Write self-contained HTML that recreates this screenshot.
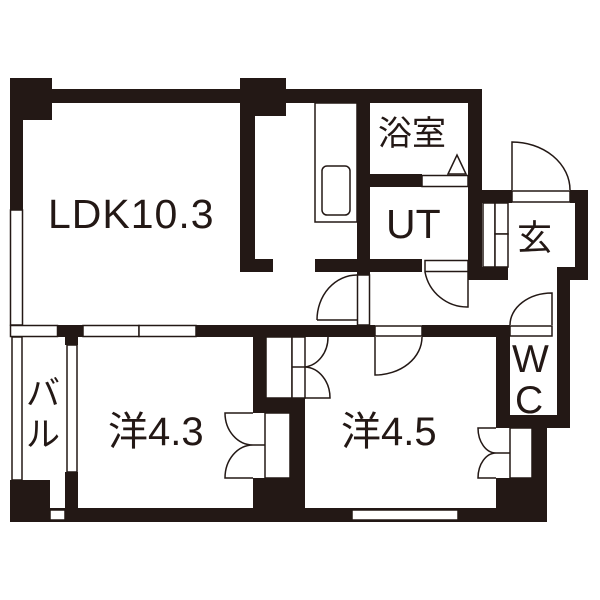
<!DOCTYPE html>
<html><head><meta charset="utf-8"><style>
html,body{margin:0;padding:0;background:#fff;width:600px;height:600px;overflow:hidden}
text{font-family:"Liberation Sans","Noto Sans CJK JP",sans-serif;fill:#231815}
</style></head><body>
<svg width="600" height="600" viewBox="0 0 600 600" xmlns="http://www.w3.org/2000/svg">
<g fill="#231815">
<rect x="10" y="78" width="42" height="42"/>
<rect x="52" y="89" width="430" height="14"/>
<rect x="240" y="78" width="46" height="38"/>
<rect x="10" y="78" width="13" height="132"/>
<rect x="240" y="115" width="15" height="157"/>
<rect x="240" y="259" width="33" height="13"/>
<rect x="357" y="89" width="13" height="186"/>
<rect x="468" y="89" width="14" height="191"/>
<rect x="370" y="174" width="52" height="13"/>
<rect x="315" y="259" width="107" height="13"/>
<rect x="482" y="190" width="30" height="13"/>
<rect x="570" y="190" width="18" height="13"/>
<rect x="575" y="190" width="13" height="90"/>
<rect x="468" y="267" width="40" height="13"/>
<rect x="557" y="267" width="31" height="13"/>
<rect x="557" y="267" width="13" height="161"/>
<rect x="58" y="325" width="25" height="12"/>
<rect x="65" y="337" width="13" height="8"/>
<rect x="196" y="325" width="179" height="12"/>
<rect x="422" y="325" width="88" height="12"/>
<rect x="65" y="472" width="13" height="50"/>
<rect x="10" y="480" width="40" height="42"/>
<rect x="50" y="508" width="497" height="14"/>
<rect x="253" y="337" width="13" height="76"/>
<rect x="253" y="398" width="52" height="15"/>
<rect x="290" y="398" width="15" height="124"/>
<rect x="253" y="478" width="52" height="44"/>
<rect x="496" y="337" width="14" height="91"/>
<rect x="496" y="415" width="74" height="13"/>
<rect x="532" y="428" width="15" height="94"/>
<rect x="496" y="478" width="51" height="44"/>
</g>
<g fill="#fff" stroke="#231815" stroke-width="1.5">
<rect x="10.5" y="210" width="12" height="115"/>
<rect x="10.5" y="325.5" width="47" height="11"/>
<rect x="83" y="325.5" width="56" height="11"/>
<rect x="139" y="325.5" width="57" height="11"/>
<rect x="12" y="337" width="10" height="143"/>
<rect x="67" y="345" width="10" height="127"/>
<rect x="50" y="510" width="15" height="10"/>
<rect x="352" y="510" width="106" height="10"/>
<rect x="422" y="175.5" width="46" height="11"/>
<rect x="425" y="260.5" width="43" height="11"/>
<rect x="512" y="191" width="58" height="11"/>
<rect x="483" y="203" width="12" height="64"/>
<rect x="495" y="203" width="13" height="31"/>
<rect x="495" y="234" width="13" height="33"/>
<rect x="357.5" y="275" width="12" height="50"/>
<rect x="375" y="326" width="47" height="10"/>
<rect x="510" y="326" width="42" height="10"/>
<rect x="315" y="103" width="42" height="119"/>
<rect x="322" y="166" width="28" height="49" rx="5"/>
<rect x="266" y="337" width="26" height="61"/>
<rect x="292" y="337" width="13" height="61"/>
<rect x="265" y="413" width="25" height="65"/>
<rect x="510" y="428" width="22" height="50"/>
</g>
<g fill="none" stroke="#231815" stroke-width="1.5">
<path d="M448 174 L457 155 L466 174 Z"/>
<path d="M425 272 A43 43 0 0 0 468 307 L468 272"/>
<path d="M512 190 L512 142 A58 48 0 0 1 570 190"/>
<path d="M317 320 A40 45 0 0 1 357 275 M317 320 L357 320"/>
<path d="M552 325 L552 293 A42 32 0 0 0 510 325"/>
<path d="M375 337 L375 375 A47 38 0 0 0 422 337"/>
<path d="M328 337 A26 30 0 0 1 305 367 A26 31 0 0 1 330 398 L305 398 M292 367 L305 367"/>
<path d="M253 413 L225 413 A28 32 0 0 0 253 445 A28 33 0 0 0 225 478 L253 478 M253 445 L265 445"/>
<path d="M496 428 L478 428 A18 25 0 0 0 496 453 A18 25 0 0 0 478 478 L496 478 M496 453 L510 453"/>
</g>
<text x="48" y="228" font-size="41" letter-spacing="1">LDK10.3</text>
<text x="378" y="145" font-size="34">浴室</text>
<text x="386" y="238" font-size="41">UT</text>
<text x="517" y="250" font-size="35">玄</text>
<text x="512" y="372" font-size="39">W</text>
<text x="515" y="413" font-size="39">C</text>
<text x="26" y="405" font-size="34">バ</text>
<text x="26" y="446" font-size="34">ル</text>
<text x="108" y="445" font-size="40">洋4.3</text>
<text x="341" y="445" font-size="40">洋4.5</text>
</svg>
</body></html>
